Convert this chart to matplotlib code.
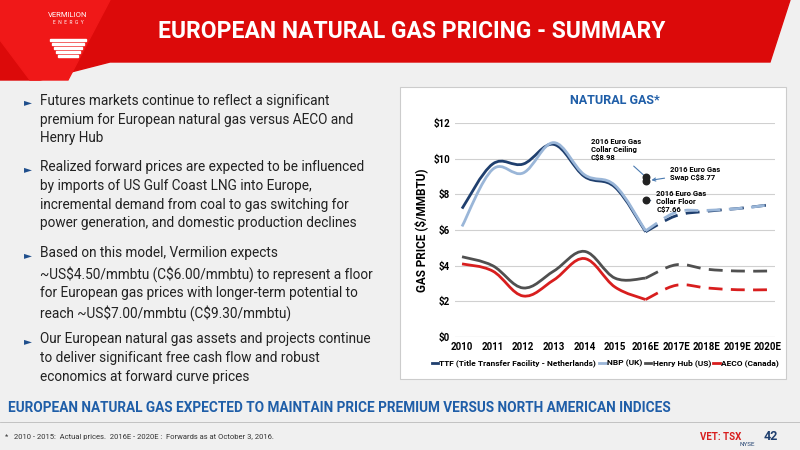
import matplotlib
matplotlib.use("Agg")
import matplotlib.pyplot as plt
import numpy as np
from matplotlib.path import Path
from matplotlib.patches import PathPatch, Polygon, Rectangle

years = ["2010","2011","2012","2013","2014","2015","2016E","2017E","2018E","2019E","2020E"]
ttf  = [7.2, 9.7, 9.7, 10.8, 9.0, 8.4, 5.9, 6.8, 7.05, 7.2, 7.4]
nbp  = [6.2, 9.4, 9.2, 10.9, 9.1, 8.5, 5.95, 7.0, 7.1, 7.2, 7.4]
hh   = [4.5, 4.0, 2.75, 3.7, 4.8, 3.3, 3.3, 4.05, 3.8, 3.7, 3.7]
aeco = [4.1, 3.7, 2.3, 3.2, 4.4, 2.8, 2.1, 2.9, 2.75, 2.65, 2.65]
series = [("TTF (Title Transfer Facility - Netherlands)", ttf, "#1f3f6e"),
          ("NBP (UK)", nbp, "#9ab6d8"),
          ("Henry Hub (US)", hh, "#505050"),
          ("AECO (Canada)", aeco, "#d81e1e")]
hedge_vals = [8.98, 8.77, 7.66]
hedge_labels = ["2016 Euro Gas\nCollar Ceiling\nC\\$8.98", "2016 Euro Gas\nSwap C\\$8.77", "2016 Euro Gas\nCollar Floor\nC\\$7.66"]

bullets = ["Futures markets continue to reflect a significant\npremium for European natural gas versus AECO and\nHenry Hub",
           "Realized forward prices are expected to be influenced\nby imports of US Gulf Coast LNG into Europe,\nincremental demand from coal to gas switching for\npower generation, and domestic production declines",
           "Based on this model, Vermilion expects\n~US\\$4.50/mmbtu (C\\$6.00/mmbtu) to represent a floor\nfor European gas prices with longer-term potential to\nreach ~US\\$7.00/mmbtu (C\\$9.30/mmbtu)",
           "Our European natural gas assets and projects continue\nto deliver significant free cash flow and robust\neconomics at forward curve prices"]

plt.rcParams['font.family'] = ['Roboto', 'DejaVu Sans']
fig = plt.figure(figsize=(8, 4.5), dpi=100)
fig.patch.set_facecolor("#f0f0f0")
bg = fig.add_axes([0, 0, 1, 1]); bg.set_xlim(0, 800); bg.set_ylim(450, 0); bg.axis("off")
bg.add_patch(Polygon([[0,0],[790,0],[770,62],[110,62],[40,80],[0,80]], closed=True, color="#dc0a0a"))
bg.add_patch(Polygon([[0,0],[110,0],[68,80],[30,80],[0,40]], closed=True, color="#f01818"))
bg.text(158, 32, "EUROPEAN NATURAL GAS PRICING - SUMMARY", color="white", fontsize=16.5, fontweight="bold", va="center")
bg.text(68, 15, "VERMILION", color="white", fontsize=5.5, ha="center", va="center")
bg.text(68, 23, "E  N  E  R  G  Y", color="white", fontsize=3.5, ha="center", va="center")
for i, w in enumerate([36, 32, 28, 24, 20]):
    bg.add_patch(Rectangle((68 - w/2, 39 + i*4), w, 2, color="white"))
bg.add_patch(Rectangle((400, 87), 386, 292, facecolor="white", edgecolor="#cccccc", lw=0.8))
yb = 94
for b in bullets:
    bg.text(24, yb + 3.5, "►", color="#1f4e8c", fontsize=7.5, va="top", family="DejaVu Sans")
    bg.text(40, yb, b, color="#222222", fontsize=9.8, va="top", linespacing=1.42)
    yb += 19.5 * (b.count("\n") + 1) + 8
bg.text(8, 408, "EUROPEAN NATURAL GAS EXPECTED TO MAINTAIN PRICE PREMIUM VERSUS NORTH AMERICAN INDICES",
        color="#1f5ea8", fontsize=9.8, fontweight="bold", va="center")
bg.plot([0, 800], [422, 422], color="#bbbbbb", lw=0.6)
bg.text(5, 437, "*   2010 - 2015:  Actual prices.  2016E - 2020E :  Forwards as at October 3, 2016.", fontsize=5.5, color="#333333", va="center")
bg.text(778, 437, "42", fontsize=9, fontweight="bold", color="#1f3f6e", ha="right", va="center")
bg.text(700, 437, "VET: TSX", fontsize=7, fontweight="bold", color="#d81e1e", ha="left", va="center")
bg.text(740, 445, "NYSE", fontsize=4.5, color="#1f3f6e", ha="left", va="center")

ax = fig.add_axes([455/800, 1-337/450, 320/800, 214/450])
ax.set_facecolor("none")
x = np.arange(len(years))

def bez_path(xs, ys, t=0.18):
    pts = np.column_stack([xs, ys]).astype(float)
    verts = [pts[0]]; codes = [Path.MOVETO]
    n = len(pts)
    for i in range(n - 1):
        p0 = pts[max(i-1, 0)]; p1 = pts[i]; p2 = pts[i+1]; p3 = pts[min(i+2, n-1)]
        c1 = p1 + (p2 - p0) * t; c2 = p2 - (p3 - p1) * t
        verts += [c1, c2, p2]; codes += [Path.CURVE4]*3
    return Path(verts, codes)

for name, vals, col in series:
    ax.add_patch(PathPatch(bez_path(x[:7], vals[:7]), fill=False, edgecolor=col, lw=2))
    ax.add_patch(PathPatch(bez_path(x[6:], vals[6:]), fill=False, edgecolor=col, lw=2, ls=(0, (5, 3))))
    ax.plot([], [], color=col, lw=2, label=name)

ax.scatter([6]*3, hedge_vals, s=22, color="#222222", zorder=5)
ax.annotate(hedge_labels[0], xy=(6, 8.98), xytext=(4.2, 9.9), fontsize=5.5, fontweight="bold",
            arrowprops=dict(arrowstyle="-", color="#4a7ab0", lw=0.8))
ax.annotate(hedge_labels[1], xy=(6.1, 8.77), xytext=(6.8, 8.8), fontsize=5.5, fontweight="bold",
            arrowprops=dict(arrowstyle="->", color="#4a7ab0", lw=0.8))
ax.annotate(hedge_labels[2], xy=(6.05, 7.66), xytext=(6.35, 7.0), fontsize=5.5, fontweight="bold",
            arrowprops=dict(arrowstyle="-", color="#4a7ab0", lw=0.8))

ax.set_xlim(-0.23, 10.23); ax.set_ylim(0, 12)
ax.set_yticks(range(0, 13, 2)); ax.set_yticklabels([f"\\${v}" for v in range(0, 13, 2)])
ax.set_xticks(x); ax.set_xticklabels(years)
ax.tick_params(length=0, labelsize=7)
for lab in ax.get_xticklabels() + ax.get_yticklabels():
    lab.set_fontweight("bold")
ax.grid(axis="y", color="#d0d0d0", lw=0.8)
ax.set_axisbelow(True)
for s in ax.spines.values(): s.set_visible(False)
ax.axhline(0, color="#d0d0d0", lw=0.8)
ax.set_ylabel("GAS PRICE (\\$/MMBTU)", fontsize=8.5, fontweight="bold", labelpad=4)
ax.set_title("NATURAL GAS*", fontsize=9, fontweight="bold", color="#1f5ea8", pad=14)
ax.legend(loc="upper center", bbox_to_anchor=(0.47, -0.07), ncol=4, frameon=False,
          handlelength=0.8, handletextpad=0.15, columnspacing=0.3, prop=dict(weight="bold", size=6))
fig.savefig("out.png", dpi=100, facecolor=fig.get_facecolor())
